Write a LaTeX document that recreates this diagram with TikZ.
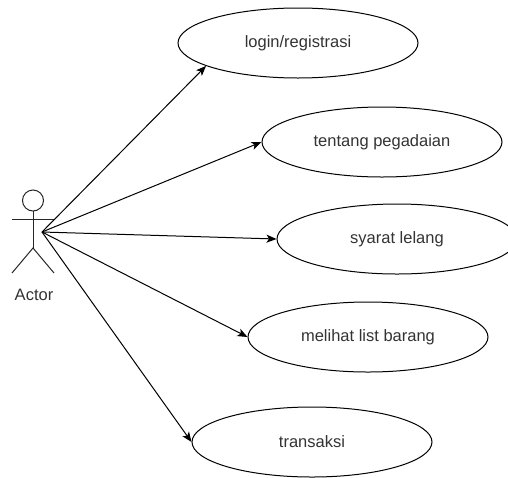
\documentclass[tikz,border=0pt]{standalone}
\usepackage{fontspec}
\setmainfont{Liberation Sans}
\usetikzlibrary{shapes.geometric,arrows.meta}
\begin{document}
\begin{tikzpicture}[x=1pt,y=-1pt,
  usecase/.style={draw=black, line width=1pt, ellipse, minimum width=240pt,
    minimum height=70pt, inner sep=0pt, text=black!80,
    font=\fontsize{16.5}{20}\selectfont},
  stick/.style={draw=black!85, line width=1pt},
  assoc/.style={draw=black, line width=1pt,
    -{Stealth[length=10pt,width=8pt,inset=2.5pt]}}]
  \useasboundingbox (0,0) rectangle (508,477);
  % use cases
  \node[usecase] (uc1) at (298,43)  {login/registrasi};
  \node[usecase] (uc2) at (382,142) {tentang pegadaian};
  \node[usecase] (uc3) at (397,239) {syarat lelang};
  \node[usecase] (uc4) at (368,337) {melihat list barang};
  \node[usecase] (uc5) at (312,442) {transaksi};
  % stick figure actor
  \draw[stick] (33,200.5) circle[radius=10.5];
  \draw[stick] (33,211) -- (33,248);
  \draw[stick] (12,219) -- (54,219);
  \draw[stick] (12,273) -- (33,248) -- (54,273);
  \node[text=black!80, font=\fontsize{16.5}{20}\selectfont] (actorlabel) at (34,295) {Actor};
  \coordinate (actor) at (42,232);
  % associations
  \draw[assoc] (actor) -- (uc1.194);
  \draw[assoc] (actor) -- (uc2.west);
  \draw[assoc] (actor) -- (uc3.west);
  \draw[assoc] (actor) -- (uc4.west);
  \draw[assoc] (actor) -- (uc5.west);
\end{tikzpicture}
\end{document}
